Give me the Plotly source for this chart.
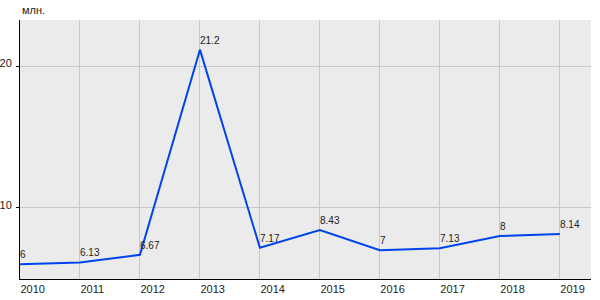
import plotly.graph_objects as go

years = [2010, 2011, 2012, 2013, 2014, 2015, 2016, 2017, 2018, 2019]
values = [6, 6.13, 6.67, 21.2, 7.17, 8.43, 7, 7.13, 8, 8.14]
labels = ["6", "6.13", "6.67", "21.2", "7.17", "8.43", "7", "7.13", "8", "8.14"]

fig = go.Figure()
fig.add_trace(go.Scatter(
    x=years, y=values, mode="lines",
    line=dict(color="#0044ee", width=2),
    hoverinfo="skip",
))

annotations = [dict(text="млн.", x=0, y=1, xref="paper", yref="paper",
                    xanchor="left", yanchor="bottom", yshift=2,
                    showarrow=False, font=dict(size=11, color="#222222"))]
for xv, yv, t in zip(years, values, labels):
    annotations.append(dict(
        x=xv, y=yv, text=t, xref="x", yref="y",
        xanchor="left", yanchor="bottom", xshift=-2, yshift=2,
        showarrow=False, font=dict(family="Liberation Sans, Arial", size=10, color="#222222"),
    ))

fig.update_layout(
    width=600, height=300,
    margin=dict(l=20, r=9, t=20, b=21),
    paper_bgcolor="white",
    plot_bgcolor="#ebebeb",
    showlegend=False,
    font=dict(family="Liberation Sans, Arial", size=11, color="#222222"),
    annotations=annotations,
)
fig.update_xaxes(
    range=[2010, 2019.52], tickmode="array", tickvals=years,
    ticktext=[str(y) for y in years],
    ticklabelposition="outside right",
    showgrid=True, gridcolor="#c8c8c8", gridwidth=1,
    showline=True, linecolor="black", linewidth=1,
    zeroline=False, ticks="", automargin=False,
)
fig.update_yaxes(
    range=[4.96, 23.3], tickvals=[10, 20],
    showgrid=True, gridcolor="#c8c8c8", gridwidth=1,
    showline=True, linecolor="black", linewidth=1,
    zeroline=False, ticks="outside", ticklen=3, tickcolor="black",
    ticklabelshift=-3, ticklabelstandoff=2, automargin=False,
)
fig.write_html("out.html")
